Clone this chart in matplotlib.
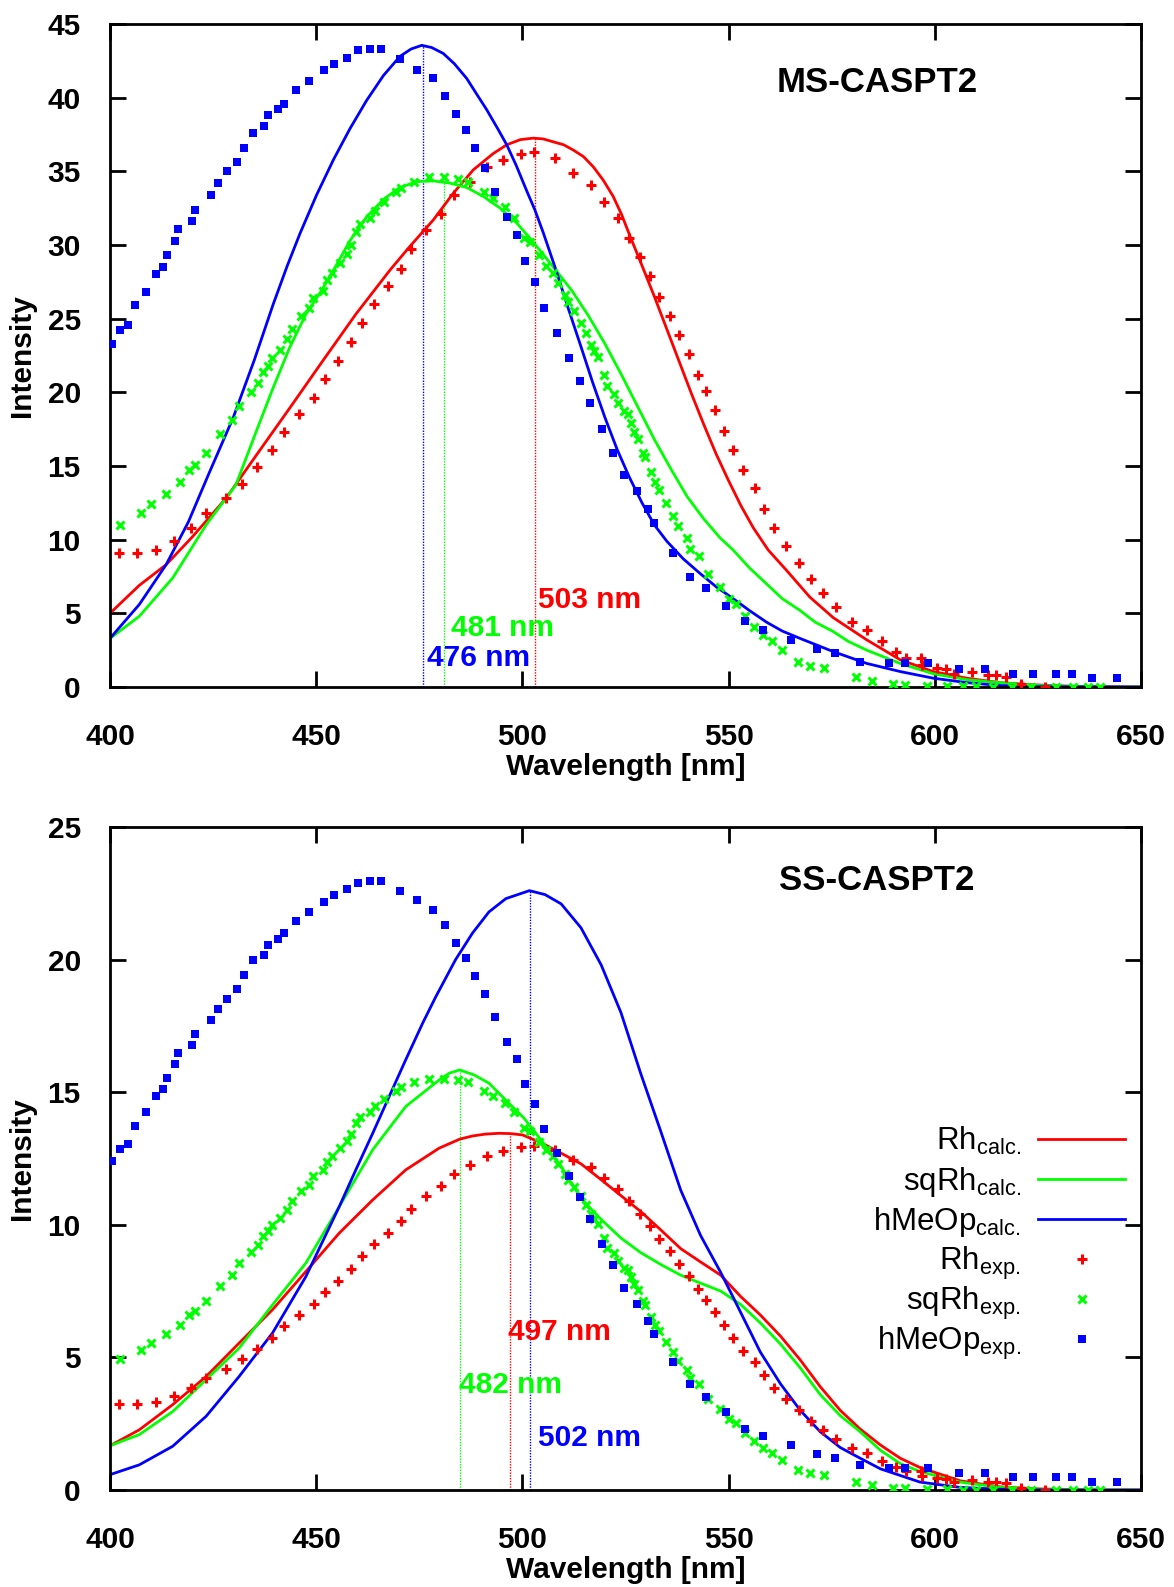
import matplotlib
matplotlib.use("Agg")
import matplotlib.pyplot as plt
from matplotlib.lines import Line2D

plt.rcParams['font.family'] = ['Liberation Sans', 'DejaVu Sans']
plt.rcParams['mathtext.default'] = 'regular'

RED = '#ff0000'
GREEN = '#00ff00'
BLUE = '#0000ff'

# ---- experimental spectra (same wavelengths in both panels) ----
wl_rh_exp = [402.1, 406.5, 411.2, 415.5, 419.6, 423.3, 428.2, 432.1, 435.6, 439.3,
             442.3, 445.9, 449.4, 452.2, 455.2, 458.5, 461.2, 464.1, 467.3, 470.5,
             473.0, 476.7, 480.3, 483.4, 487.2, 491.4, 495.2, 499.7,
             502.9, 507.9, 512.3, 516.6, 519.8, 523.3, 525.9, 528.5, 530.9, 533.2,
             535.7, 538.0, 540.5, 542.6, 544.5, 546.7, 548.8, 551.1, 553.4, 556.4,
             558.6, 561.1, 563.8, 567.1, 570.0, 572.9, 576.1, 580.0, 583.5, 587.2,
             590.6, 593.0, 596.6, 596.9, 600.6, 602.8, 604.7, 609.1, 612.9, 614.8,
             617.2, 620.8, 626.7]
ms_rh_exp = [9.1, 9.1, 9.3, 9.9, 10.8, 11.8, 12.8, 13.8, 14.9, 16.1,
             17.3, 18.5, 19.6, 20.9, 22.1, 23.4, 24.7, 26.0, 27.2, 28.4,
             29.7, 31.0, 32.1, 33.4, 34.3, 35.3, 35.8, 36.2,
             36.3, 35.9, 34.9, 34.1, 32.9, 31.8, 30.5, 29.2, 27.9, 26.5,
             25.2, 23.9, 22.6, 21.2, 20.1, 18.8, 17.4, 16.1, 14.7, 13.5,
             12.1, 10.8, 9.6, 8.4, 7.3, 6.4, 5.4, 4.4, 3.9, 3.1,
             2.4, 2.0, 2.0, 1.5, 1.3, 1.2, 0.9, 1.0, 0.8, 0.8,
             0.7, 0.2, 0.0]
ss_rh_exp = [3.25, 3.25, 3.32, 3.53, 3.86, 4.21, 4.57, 4.93, 5.32, 5.75,
             6.18, 6.60, 7.00, 7.46, 7.89, 8.35, 8.82, 9.28, 9.71, 10.14,
             10.60, 11.07, 11.46, 11.92, 12.25, 12.60, 12.78, 12.92,
             12.96, 12.82, 12.46, 12.17, 11.75, 11.35, 10.89, 10.42, 9.96, 9.46,
             9.00, 8.53, 8.07, 7.57, 7.18, 6.71, 6.21, 5.75, 5.25, 4.82,
             4.32, 3.86, 3.43, 3.00, 2.61, 2.28, 1.93, 1.57, 1.39, 1.11,
             0.86, 0.71, 0.71, 0.54, 0.46, 0.43, 0.32, 0.36, 0.29, 0.29,
             0.25, 0.07, 0.0]

wl_sqrh_exp = [402.4, 407.6, 410.0, 413.6, 417.0, 419.2, 420.5, 423.3, 426.7, 429.6,
               431.3, 434.2, 436.0, 437.2, 438.3, 439.4, 441.2, 442.9, 444.2, 446.4,
               448.2, 449.3, 451.6, 452.7, 453.8, 455.7, 457.4, 458.4, 459.6, 460.7,
               463.0, 464.3, 466.4, 469.4, 470.6, 473.7, 477.4, 481.0, 484.4, 486.7,
               490.6, 492.9, 495.9, 498.0, 500.5,
               501.8, 504.1, 505.7, 507.4, 508.7, 510.3, 511.0, 512.6, 514.2, 515.5,
               516.6, 517.3, 518.3, 519.9, 520.6, 522.3, 523.3, 524.6, 525.6, 526.4,
               527.0, 528.0, 529.2, 529.7, 531.3, 532.1, 533.2, 534.8, 536.6, 537.8,
               539.9, 540.7, 542.9, 545.1, 548.0, 550.1, 551.9, 553.9, 556.1, 558.4,
               560.6, 562.9, 566.8, 569.8, 573.2, 580.8, 584.8, 589.9, 592.8,
               598.0, 602.9, 606.8, 610.1, 614.2, 618.6, 623.3, 629.3, 633.4, 637.1, 640.1]
ms_sqrh_exp = [11.0, 11.8, 12.4, 13.1, 13.9, 14.7, 15.1, 15.9, 17.2, 18.1,
               19.1, 20.0, 20.6, 21.4, 21.8, 22.3, 22.9, 23.6, 24.3, 25.2,
               25.7, 26.4, 26.9, 27.6, 28.1, 28.8, 29.4, 30.0, 30.9, 31.4,
               31.8, 32.3, 32.9, 33.6, 33.9, 34.3, 34.6, 34.6, 34.5, 34.3,
               33.6, 33.2, 32.6, 31.8, 30.5,
               30.2, 29.3, 28.6, 28.1, 27.4, 26.6, 26.1, 25.5, 24.7, 24.0,
               23.2, 22.8, 22.4, 21.2, 20.4, 19.9, 19.3, 18.7, 18.5, 17.9,
               17.3, 16.8, 15.9, 15.6, 14.6, 13.9, 13.4, 12.5, 11.6, 10.9,
               10.1, 9.4, 8.9, 7.7, 6.8, 6.0, 5.6, 4.8, 4.1, 3.5,
               3.1, 2.5, 1.7, 1.4, 1.3, 0.7, 0.4, 0.2, 0.15,
               0.1, 0.08, 0.05, 0.05, 0.03, 0.02, 0.02, 0.0, 0.0, 0.0, 0.0]
ss_sqrh_exp = [4.93, 5.29, 5.56, 5.87, 6.23, 6.59, 6.76, 7.12, 7.71, 8.11,
               8.56, 8.96, 9.23, 9.59, 9.77, 9.99, 10.26, 10.57, 10.89, 11.29,
               11.51, 11.83, 12.05, 12.36, 12.59, 12.90, 13.17, 13.44, 13.84, 14.07,
               14.25, 14.47, 14.74, 15.05, 15.19, 15.37, 15.50, 15.50, 15.46, 15.37,
               15.05, 14.87, 14.60, 14.25, 13.66,
               13.53, 13.13, 12.81, 12.59, 12.28, 11.92, 11.69, 11.42, 11.07, 10.75,
               10.39, 10.21, 10.04, 9.50, 9.14, 8.92, 8.65, 8.38, 8.29, 8.02,
               7.75, 7.53, 7.12, 6.99, 6.54, 6.23, 6.00, 5.60, 5.20, 4.88,
               4.52, 4.21, 3.99, 3.45, 3.05, 2.69, 2.51, 2.15, 1.84, 1.57,
               1.39, 1.12, 0.76, 0.63, 0.58, 0.31, 0.18, 0.09, 0.07,
               0.04, 0.04, 0.02, 0.02, 0.01, 0.01, 0.01, 0.0, 0.0, 0.0, 0.0]

wl_hmeop_exp = [400.5, 402.4, 404.4, 406.1, 408.8, 411.1, 412.8, 413.8, 415.8, 416.4,
                420.0, 420.6, 424.4, 426.3, 428.3, 430.9, 432.5, 434.7, 437.4, 438.4,
                440.8, 442.2, 445.2, 448.2, 451.8, 454.4, 457.4, 460.2, 463.1, 465.8,
                470.3, 474.5, 478.4, 481.3, 483.8, 486.3, 488.4, 490.9, 493.4, 496.3,
                498.8, 500.6, 503.1, 505.3, 508.3, 511.4, 514.0, 516.3, 519.3, 522.0,
                524.6, 527.7, 530.4, 531.9, 536.4, 540.6, 544.4, 549.4, 553.9, 558.3,
                565.2, 571.4, 575.8, 581.9, 588.8, 592.8, 598.3, 605.9, 612.1, 619.0,
                623.7, 629.5, 633.2, 638.2, 644.2]
ms_hmeop_exp = [23.3, 24.2, 24.6, 25.9, 26.8, 28.0, 28.5, 29.3, 30.3, 31.1,
                31.6, 32.4, 33.4, 34.2, 35.0, 35.6, 36.6, 37.6, 38.1, 38.8,
                39.2, 39.6, 40.5, 41.1, 41.9, 42.3, 42.7, 43.2, 43.3, 43.3,
                42.6, 41.9, 41.3, 40.1, 38.9, 37.8, 36.6, 35.2, 33.6, 31.9,
                30.7, 28.9, 27.5, 25.7, 24.0, 22.3, 20.8, 19.3, 17.5, 15.9,
                14.4, 13.3, 12.1, 11.1, 9.1, 7.5, 6.7, 5.5, 4.5, 3.9,
                3.2, 2.6, 2.3, 1.7, 1.6, 1.6, 1.6, 1.2, 1.2, 0.9,
                0.9, 0.9, 0.9, 0.6, 0.6]
ss_hmeop_exp = [12.39, 12.84, 13.06, 13.71, 14.24, 14.84, 15.13, 15.55, 16.06, 16.47,
                16.79, 17.19, 17.71, 18.13, 18.53, 18.90, 19.42, 19.97, 20.18, 20.55,
                20.79, 21.0, 21.47, 21.79, 22.19, 22.44, 22.66, 22.9, 22.97, 22.97,
                22.58, 22.24, 21.87, 21.29, 20.63, 20.05, 19.39, 18.69, 17.85, 16.9,
                16.26, 15.32, 14.55, 13.6, 12.7, 11.84, 11.05, 10.23, 9.27, 8.47,
                7.63, 7.0, 6.37, 5.9, 4.82, 4.0, 3.52, 2.94, 2.32, 2.05,
                1.71, 1.34, 1.21, 0.94, 0.84, 0.84, 0.84, 0.65, 0.65, 0.48,
                0.48, 0.48, 0.48, 0.29, 0.29]

# ---- calculated spectra, MS-CASPT2 ----
ms_rh_wl = [400, 407.1, 413.6, 420.0, 428.1, 435.4, 443.5, 451.5, 459.6, 467.9,
            472.7, 478.4, 483.2, 488.1, 492.9, 496.2, 499.5, 502.6, 505, 507.5,
            510, 512.3, 514.8, 517.2, 519.6, 522, 524, 526.1, 529, 532,
            535, 538, 541, 544, 547, 550, 553, 556, 559.6, 564.1,
            569.7, 575.4, 583.5, 591.6, 599.6, 607.7, 615.8, 623.9, 635, 650]
ms_rh_calc = [5.0, 6.9, 8.3, 10.2, 12.8, 15.7, 18.9, 22.1, 25.3, 28.3,
              29.9, 31.7, 33.5, 35.1, 36.2, 36.8, 37.15, 37.25, 37.2, 37.0,
              36.8, 36.45, 36.0, 35.3, 34.4, 33.3, 32.1, 30.6, 28.6, 26.5,
              24.3, 22.1, 19.9, 17.8, 15.8, 14.0, 12.3, 10.8, 9.3, 7.9,
              6.1, 4.7, 3.2, 1.85, 1.05, 0.6, 0.3, 0.15, 0.03, 0.0]
ms_sqrh_wl = [400, 407.1, 415.2, 423.3, 430.5, 435.4, 439.4, 443.5, 447.5, 451.5,
              454.2, 458.2, 462.2, 466.3, 470.3, 474.4, 478.4, 482.4, 486.5, 490.5,
              494.6, 498.6, 502.6, 507.5, 512, 516, 520, 524, 528, 532,
              536, 540, 544, 548, 551.1, 555, 559.2, 563, 567.3, 571,
              575.4, 579, 583.5, 591.6, 599.6, 607.7, 615.8, 625, 640, 650]
ms_sqrh_calc = [3.3, 4.8, 7.4, 11.0, 13.7, 17.3, 20.2, 23.0, 25.3, 27.0,
                28.3, 30.3, 31.9, 33.1, 33.9, 34.3, 34.35, 34.2, 33.9, 33.3,
                32.5, 31.5, 30.2, 28.5, 26.9, 25.2, 23.3, 21.2, 19.0, 16.8,
                14.8, 12.9, 11.4, 10.1, 9.3, 8.1, 7.0, 6.0, 5.2, 4.4,
                3.76, 3.1, 2.5, 1.6, 0.9, 0.5, 0.3, 0.1, 0.0, 0.0]
ms_hmeop_wl = [400, 407.1, 413.6, 419, 424, 429.9, 435, 439.6, 443, 446.1,
               450.1, 454.2, 458.2, 462.2, 466.3, 470.3, 473, 475.6, 478, 480.8,
               483.5, 486.5, 489, 491.3, 494, 496.2, 498.5, 501, 503, 505.1,
               507.9, 511, 514.2, 517, 520, 523, 526, 529, 532, 535,
               539, 543.1, 547, 551.1, 555, 559.2, 563, 567.3, 575.4, 583.5,
               591.6, 599.6, 607.7, 615.8, 625, 650]
ms_hmeop_calc = [3.3, 5.6, 8.3, 11.2, 14.5, 18.3, 22.2, 26.0, 28.6, 30.8,
                 33.4, 35.8, 37.9, 39.8, 41.5, 42.8, 43.3, 43.55, 43.4, 43.0,
                 42.3, 41.3, 40.2, 39.2, 37.9, 36.8, 35.4, 33.7, 32.4, 30.8,
                 28.5, 25.8, 23.1, 20.7, 18.3, 16.1, 14.2, 12.5, 11.0, 9.9,
                 8.7, 7.7, 6.8, 6.0, 5.2, 4.4, 3.8, 3.3, 2.4, 1.6,
                 1.05, 0.6, 0.3, 0.1, 0.02, 0.0]

# ---- calculated spectra, SS-CASPT2 ----
ss_rh_wl = [400, 407.1, 415.2, 423.3, 431.3, 439.4, 447.5, 455.6, 463.7, 471.7,
            479.8, 484.8, 487.9, 491.0, 494.3, 497.0, 500, 504.5, 509.4, 514.2,
            519.1, 523.9, 528.7, 533.6, 538.4, 543.2, 548.1, 552.9, 557.7, 562.6,
            567.4, 572.2, 577.1, 581.9, 586.8, 591.6, 596.4, 606.1, 615.8, 625.5,
            640, 650]
ss_rh_calc = [1.67, 2.27, 3.22, 4.28, 5.54, 6.8, 8.24, 9.69, 10.94, 12.07,
              12.89, 13.23, 13.35, 13.42, 13.45, 13.44, 13.39, 13.1, 12.7, 12.3,
              11.7, 11.1, 10.5, 9.8, 9.1, 8.6, 8.1, 7.3, 6.6, 5.8,
              4.9, 3.9, 3.0, 2.3, 1.7, 1.2, 0.85, 0.35, 0.12, 0.04,
              0.0, 0.0]
ss_sqrh_wl = [400, 407.1, 415.2, 423.3, 431.3, 439.4, 447.5, 455.6, 463.7, 471.7,
              479.8, 482.3, 484.8, 488.3, 491.9, 495.9, 500.4, 504.5, 509.4, 514.2,
              519.1, 523.9, 528.7, 533.6, 538.4, 543.2, 548.1, 552.9, 557.7, 562.6,
              567.4, 572.2, 577.1, 581.9, 586.8, 591.6, 596.4, 606.1, 615.8, 625.5,
              640, 650]
ss_sqrh_calc = [1.67, 2.09, 2.96, 4.16, 5.35, 6.98, 8.56, 10.69, 12.83, 14.46,
                15.46, 15.72, 15.84, 15.65, 15.34, 14.71, 14.02, 13.2, 12.2, 11.0,
                10.2, 9.5, 8.95, 8.5, 8.1, 7.8, 7.5, 7.0, 6.3, 5.5,
                4.6, 3.6, 2.8, 2.2, 1.5, 1.0, 0.7, 0.3, 0.1, 0.03,
                0.0, 0.0]
ss_hmeop_wl = [400, 407.1, 415.2, 423.3, 431.3, 439.4, 447.5, 455.6, 459.6, 463.7,
               467.7, 471.7, 475.8, 479.0, 483.8, 487.9, 491.9, 496.0, 501.7, 505.5,
               509.4, 514.2, 519.1, 523.9, 528.7, 533.6, 538.4, 543.2, 548.1, 551.0,
               557.7, 562.6, 567.4, 572.2, 577.1, 581.9, 586.8, 596.4, 606.1, 615.8,
               630, 650]
ss_hmeop_calc = [0.58, 0.95, 1.65, 2.78, 4.28, 5.92, 8.05, 10.69, 12.07, 13.45,
                 14.84, 16.22, 17.6, 18.6, 20.0, 21.0, 21.8, 22.3, 22.6, 22.45,
                 22.1, 21.2, 19.8, 18.0, 15.7, 13.5, 11.3, 9.6, 8.2, 7.3,
                 5.2, 4.0, 3.0, 2.2, 1.6, 1.2, 0.8, 0.3, 0.1, 0.03,
                 0.0, 0.0]

# peak markers: dotted line position, its height, label
ms_peaks_wl = [503.1, 480.9, 475.8]
ms_peaks_h = [37.25, 34.25, 43.55]
ms_peaks_txt = ['503 nm', '481 nm', '476 nm']
ss_peaks_wl = [496.9, 484.8, 501.8]
ss_peaks_h = [13.44, 15.84, 22.6]
ss_peaks_txt = ['497 nm', '482 nm', '502 nm']

FS = 21.5
KEY_FS = 22.5
LW = 2.0
MK_RH = dict(marker='+', ms=6.5, mew=2.2)
MK_SQ = dict(marker='x', ms=5.2, mew=2.2)
MK_HM = dict(marker='s', ms=5.4, mew=0)

fig = plt.figure(figsize=(11.74, 15.87), dpi=100)
ax1 = fig.add_axes([0.0937, 0.5671, 0.8782, 0.4178])
ax2 = fig.add_axes([0.0937, 0.0611, 0.8782, 0.4178])


def draw_panel(ax, calc, exp, peaks, ymax, title, title_y, label_pos):
    colors = [RED, GREEN, BLUE]
    for (wl, val), c in zip(calc, colors):
        ax.plot(wl, val, color=c, lw=LW, zorder=2)
    for (wl, val), c, mk in zip(exp, colors, [MK_RH, MK_SQ, MK_HM]):
        ax.plot(wl, val, ls='none', color=c, zorder=3, **mk)

    pw, ph, pt = peaks
    for x, h, t, c, (lx, ly) in zip(pw, ph, pt, colors, label_pos):
        ax.plot([x, x], [0, h], color=c, lw=1.0, ls=(0, (1, 1)), zorder=1)
        ax.text(lx, ly, t, color=c, fontsize=FS, fontweight='bold',
                ha='left', va='center', zorder=4)

    ax.text(586, title_y, title, fontsize=25, fontweight='bold',
            ha='center', va='center')

    ax.set_xlim(400, 650)
    ax.set_ylim(0, ymax)
    ax.set_xticks(range(400, 651, 50))
    ax.set_yticks(range(0, ymax + 1, 5))
    ax.tick_params(direction='in', length=11.5, width=2.0, top=True, right=True,
                   labelsize=FS)
    ax.tick_params(axis='x', pad=26)
    ax.tick_params(axis='y', pad=21)
    for lab in ax.get_xticklabels() + ax.get_yticklabels():
        lab.set_fontweight('bold')
    for sp in ax.spines.values():
        sp.set_linewidth(2.0)
    ax.set_xlabel('Wavelength [nm]', fontsize=FS, fontweight='bold', va='center')
    ax.xaxis.set_label_coords(0.5, -0.1207)
    ax.set_ylabel('Intensity', fontsize=FS, fontweight='bold', va='center')
    ax.yaxis.set_label_coords(-0.0854, 0.5)


draw_panel(ax1,
           [(ms_rh_wl, ms_rh_calc), (ms_sqrh_wl, ms_sqrh_calc), (ms_hmeop_wl, ms_hmeop_calc)],
           [(wl_rh_exp, ms_rh_exp), (wl_sqrh_exp, ms_sqrh_exp), (wl_hmeop_exp, ms_hmeop_exp)],
           (ms_peaks_wl, ms_peaks_h, ms_peaks_txt), 45, 'MS-CASPT2', 41.0,
           [(503.8, 5.9), (482.8, 4.0), (476.8, 2.0)])

draw_panel(ax2,
           [(ss_rh_wl, ss_rh_calc), (ss_sqrh_wl, ss_sqrh_calc), (ss_hmeop_wl, ss_hmeop_calc)],
           [(wl_rh_exp, ss_rh_exp), (wl_sqrh_exp, ss_sqrh_exp), (wl_hmeop_exp, ss_hmeop_exp)],
           (ss_peaks_wl, ss_peaks_h, ss_peaks_txt), 25, 'SS-CASPT2', 22.98,
           [(496.6, 5.97), (484.7, 3.96), (503.9, 1.95)])

# gnuplot-style key: right-aligned labels, sample to the right
key_labels = [r'Rh$_{calc.}$', r'sqRh$_{calc.}$', r'hMeOp$_{calc.}$',
              r'Rh$_{exp.}$', r'sqRh$_{exp.}$', r'hMeOp$_{exp.}$']
key_styles = [dict(color=RED, lw=LW), dict(color=GREEN, lw=LW), dict(color=BLUE, lw=LW),
              dict(color=RED, ls='none', **MK_RH),
              dict(color=GREEN, ls='none', **MK_SQ),
              dict(color=BLUE, ls='none', **MK_HM)]
row0 = (1490 - 1139.3) / 663.0
drow = 40.0 / 663.0
for i, (lab, st) in enumerate(zip(key_labels, key_styles)):
    y = row0 - i * drow
    ax2.text(0.8833, y - 11.0 / 663.0, lab, transform=ax2.transAxes,
             fontsize=KEY_FS, ha='right', va='baseline')
    if st.get('ls') == 'none':
        ax2.add_line(Line2D([0.9423], [y], transform=ax2.transAxes, **st))
    else:
        ax2.add_line(Line2D([0.9001, 0.9845], [y, y], transform=ax2.transAxes, **st))

fig.savefig('out.png', dpi=100)
